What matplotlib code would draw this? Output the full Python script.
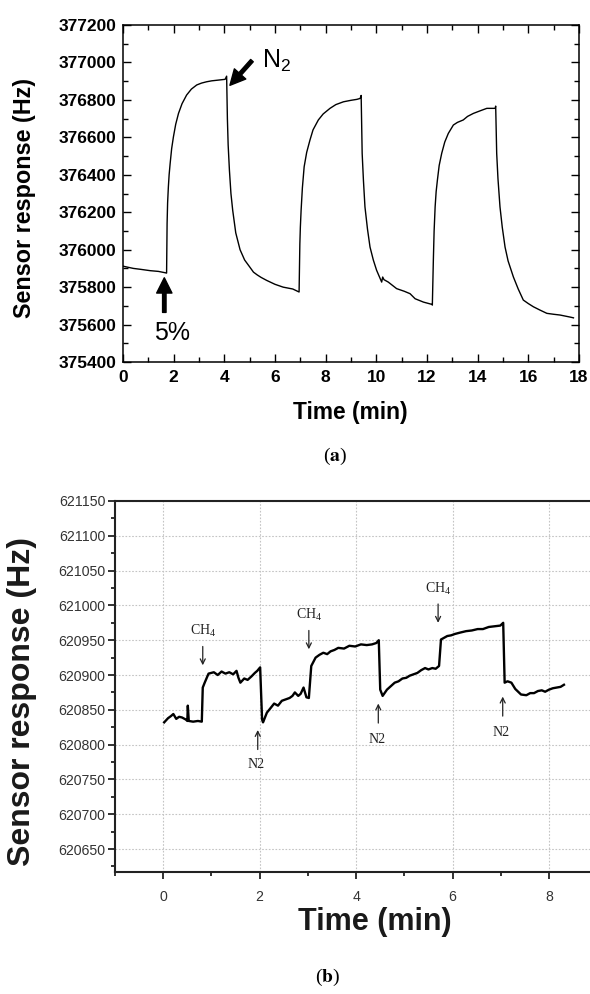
import matplotlib
matplotlib.use("Agg")
import matplotlib.pyplot as plt
from matplotlib.ticker import MultipleLocator

# ---------------- data: panel (a) ----------------
time_a = [0.0, 0.2, 0.41, 0.7, 1.07, 1.4, 1.66, 1.72,
          1.74, 1.76, 1.79, 1.82, 1.86, 1.92, 1.99, 2.08, 2.19, 2.33, 2.51, 2.7, 2.91, 3.1, 3.30, 3.5, 3.7, 4.03, 4.09,
          4.12, 4.15, 4.2, 4.26, 4.33, 4.45, 4.62, 4.8, 5.0, 5.15, 5.3, 5.45, 5.67, 6.0, 6.32, 6.7, 6.95,
          6.98, 7.0, 7.03, 7.08, 7.15, 7.25, 7.38, 7.5, 7.71, 7.9, 8.17, 8.4, 8.70, 9.0, 9.23, 9.36, 9.40,
          9.44, 9.49, 9.55, 9.65, 9.75, 9.88, 10.01, 10.21, 10.25, 10.3, 10.47, 10.80, 11.1, 11.33, 11.53, 11.86, 12.19,
          12.21, 12.25, 12.28, 12.32, 12.36, 12.41, 12.48, 12.58, 12.7, 12.84, 13.04, 13.2, 13.43, 13.6, 13.83, 14.1, 14.36, 14.69, 14.71,
          14.75, 14.8, 14.88, 14.97, 15.08, 15.2, 15.41, 15.6, 15.80, 16.0, 16.20, 16.45, 16.73, 17.0, 17.25, 17.65, 17.78]
freq_a = [375912, 375906, 375900, 375895, 375888, 375884, 375877, 375875,
          376140, 376250, 376335, 376400, 376460, 376540, 376603, 376670, 376728, 376780, 376826, 376858, 376880, 376890, 376897, 376902, 376905, 376910, 376927,
          376700, 376560, 376425, 376300, 376210, 376090, 376000, 375945, 375908, 375880, 375865, 375852, 375836, 375815, 375800, 375790, 375774,
          376030, 376120, 376211, 376330, 376443, 376520, 376586, 376640, 376693, 376725, 376755, 376775, 376790, 376798, 376803, 376808, 376824,
          376514, 376370, 376229, 376110, 376014, 375945, 375890, 375827, 375854, 375840, 375827, 375792, 375778, 375765, 375738, 375720, 375708,
          375704, 375945, 376100, 376229, 376310, 376372, 376450, 376515, 376575, 376621, 376666, 376680, 376693, 376712, 376728, 376742, 376755, 376755, 376767,
          376515, 376380, 376229, 376120, 376014, 375940, 375854, 375790, 375731, 375712, 375695, 375678, 375660, 375655, 375651, 375640, 375636]

# ---------------- data: panel (b) ----------------
time_b = [0.02, 0.10, 0.16, 0.21, 0.27, 0.33, 0.39, 0.47, 0.50, 0.51, 0.53, 0.62, 0.72, 0.80,
          0.82, 0.86, 0.94, 1.05, 1.13, 1.21, 1.29, 1.37, 1.45, 1.52, 1.56, 1.60, 1.68, 1.75, 1.83, 1.90, 1.95, 2.01,
          2.05, 2.07, 2.15, 2.22, 2.30, 2.38, 2.46, 2.54, 2.62, 2.68, 2.73, 2.80, 2.85, 2.91, 2.97, 3.02,
          3.07, 3.16, 3.24, 3.32, 3.40, 3.47, 3.55, 3.63, 3.75, 3.86, 3.98, 4.10, 4.22, 4.33, 4.42, 4.47,
          4.50, 4.55, 4.64, 4.72, 4.80, 4.88, 4.96, 5.04, 5.11, 5.19, 5.27, 5.35, 5.43, 5.50, 5.58, 5.65, 5.72,
          5.76, 5.89, 5.97, 6.05, 6.16, 6.28, 6.40, 6.52, 6.63, 6.75, 6.87, 6.99, 7.05,
          7.08, 7.14, 7.22, 7.30, 7.42, 7.53, 7.61, 7.69, 7.77, 7.85, 7.92, 8.00, 8.08, 8.16, 8.24, 8.31]
freq_b = [620832, 620838, 620841, 620844, 620837, 620840, 620839, 620836, 620834, 620856, 620834, 620833, 620834, 620833,
          620882, 620889, 620902, 620904, 620900, 620905, 620902, 620904, 620901, 620906, 620896, 620889, 620895, 620893, 620898, 620903, 620906, 620911,
          620836, 620832, 620846, 620852, 620859, 620856, 620863, 620865, 620867, 620870, 620875, 620870, 620873, 620882, 620868, 620867,
          620913, 620925, 620929, 620932, 620930, 620934, 620936, 620939, 620938, 620942, 620941, 620944, 620943, 620944, 620946, 620950,
          620879, 620870, 620879, 620884, 620889, 620891, 620895, 620896, 620899, 620901, 620903, 620907, 620910, 620908, 620910, 620909, 620913,
          620951, 620956, 620957, 620959, 620961, 620963, 620964, 620966, 620966, 620969, 620970, 620971, 620975,
          620889, 620891, 620889, 620880, 620872, 620871, 620874, 620874, 620877, 620878, 620876, 620879, 620881, 620882, 620883, 620886]

# annotations panel (b)
ch4_t = [0.82, 3.02, 5.70]
ch4_text_v = [620963, 620986, 621024]
ch4_arrow_from = [620941, 620964, 621002]
ch4_arrow_to = [620914, 620937, 620975]
n2_t = [1.96, 4.46, 7.04]
n2_text_v = [620771, 620808, 620818]
n2_arrow_from = [620793, 620831, 620841]
n2_arrow_to = [620821, 620859, 620869]

fig = plt.figure(figsize=(5.90, 9.94), dpi=100)

# ================= panel (a) =================
axa = fig.add_axes([0.2085, 0.6358, 0.7729, 0.3390])
axa.plot(time_a, freq_a, color='black', lw=1.0)
axa.set_xlim(0, 18)
axa.set_ylim(375400, 377200)
axa.xaxis.set_major_locator(MultipleLocator(2))
axa.xaxis.set_minor_locator(MultipleLocator(1))
axa.yaxis.set_major_locator(MultipleLocator(200))
axa.yaxis.set_minor_locator(MultipleLocator(100))
axa.tick_params(which='both', direction='in', top=True, right=True, width=1.0)
axa.tick_params(which='major', length=6)
axa.tick_params(which='minor', length=3.5)
axa.tick_params(axis='y', pad=5)
axa.tick_params(axis='x', pad=6)
for sp in axa.spines.values():
    sp.set_linewidth(1.1)
for lab in axa.get_xticklabels() + axa.get_yticklabels():
    lab.set_fontfamily('Liberation Sans')
    lab.set_fontweight('bold')
    lab.set_fontsize(12.5)

fig.text(0.041, 0.8013, 'Sensor response (Hz)', rotation=90, ha='center', va='center',
         family='Liberation Sans', weight='bold', fontsize=16.8)
fig.text(0.593, 0.5855, 'Time (min)', ha='center', va='center',
         family='Liberation Sans', weight='bold', fontsize=16.4)

axa.annotate('', xy=(4.22, 376878), xytext=(5.09, 377010),
             arrowprops=dict(facecolor='black', edgecolor='black', width=2.5,
                             headwidth=11, headlength=11, shrink=0))
axa.text(5.5, 377010, r'N$_{\mathregular{2}}$', ha='left', va='center',
         family='Liberation Sans', fontsize=18)
axa.annotate('', xy=(1.63, 375850), xytext=(1.63, 375665),
             arrowprops=dict(facecolor='black', edgecolor='black', width=2.5,
                             headwidth=11, headlength=11, shrink=0))
axa.text(1.93, 375555, '5%', ha='center', va='center',
         family='Liberation Sans', fontsize=18)

fig.text(0.568, 1 - 456 / 994, r'($\mathbf{a}$)', ha='center', va='center',
         family='Liberation Serif', fontsize=14, math_fontfamily='stix')

# ================= panel (b) =================
axb = fig.add_axes([0.1949, 0.1227, 0.8051, 0.3733])
axb.plot(time_b, freq_b, color='black', lw=1.7)
axb.set_xlim(-1, 8.85)
axb.set_ylim(620617, 621150)
axb.xaxis.set_major_locator(MultipleLocator(2))
axb.xaxis.set_minor_locator(MultipleLocator(1))
axb.yaxis.set_major_locator(MultipleLocator(50))
axb.yaxis.set_minor_locator(MultipleLocator(25))
axb.spines['right'].set_visible(False)
for sp in ['left', 'bottom', 'top']:
    axb.spines[sp].set_linewidth(1.5)
    axb.spines[sp].set_color('#222222')
axb.tick_params(which='both', direction='out', top=False, right=False, width=1.3, color='#222222')
axb.tick_params(which='major', length=5)
axb.tick_params(which='minor', length=3)
axb.tick_params(axis='y', pad=2)
axb.tick_params(axis='x', pad=8)
axb.grid(True, which='major', linestyle=(0, (1.5, 1.5)), color='#c4c4c4', lw=0.8)
axb.set_axisbelow(True)
for lab in axb.get_xticklabels() + axb.get_yticklabels():
    lab.set_fontfamily('Liberation Sans')
    lab.set_fontsize(10.2)
    lab.set_color('#333333')

fig.text(0.0373, 1 - 701 / 994, 'Sensor response (Hz)', rotation=90, ha='center', va='center',
         family='Liberation Sans', weight='bold', fontsize=23, color='#1a1a1a')
fig.text(0.635, 1 - 922 / 994, 'Time (min)', ha='center', va='center',
         family='Liberation Sans', weight='bold', fontsize=22, color='#1a1a1a')

for t, tv, a0, a1 in zip(ch4_t, ch4_text_v, ch4_arrow_from, ch4_arrow_to):
    axb.text(t, tv, r'CH$_{\mathregular{4}}$', ha='center', va='center',
             family='Liberation Serif', fontsize=10, color='#222222')
    axb.annotate('', xy=(t, a1), xytext=(t, a0),
                 arrowprops=dict(arrowstyle='->', lw=0.9, color='#222222', mutation_scale=9,
                                 shrinkA=0, shrinkB=0))
for t, tv, a0, a1 in zip(n2_t, n2_text_v, n2_arrow_from, n2_arrow_to):
    axb.text(t - 0.03, tv, 'N2', ha='center', va='center',
             family='Liberation Serif', fontsize=10, color='#222222')
    axb.annotate('', xy=(t, a1), xytext=(t, a0),
                 arrowprops=dict(arrowstyle='->', lw=0.9, color='#222222', mutation_scale=9,
                                 shrinkA=0, shrinkB=0))

fig.text(0.555, 1 - 977 / 994, r'($\mathbf{b}$)', ha='center', va='center',
         family='Liberation Serif', fontsize=14, math_fontfamily='stix')

fig.savefig('out.png', dpi=100)
